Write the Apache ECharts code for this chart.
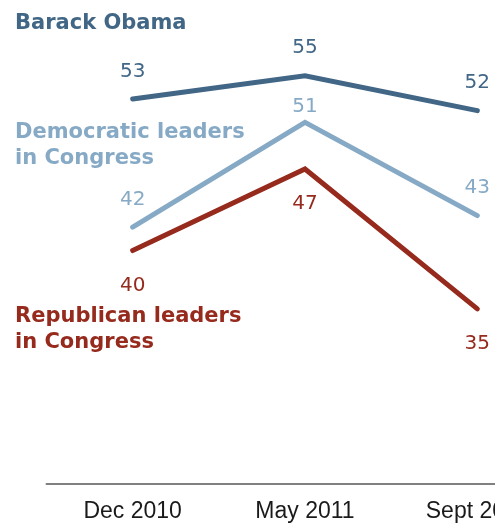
<!DOCTYPE html>
<html>
<head>
<meta charset="utf-8">
<script src="https://cdn.jsdelivr.net/npm/echarts@6/dist/echarts.min.js"></script>
<style>
  html, body { margin: 0; padding: 0; background: #fff; overflow: hidden; }
  /* the chart is wider than the window, so the last label is cut at the edge */
  #main { width: 566px; height: 525px; }
</style>
</head>
<body>
<div id="main"></div>
<script>
var categories = ['Dec 2010', 'May 2011', 'Sept 2011'];
var obama = [53, 55, 52];
var democrats = [42, 51, 43];
var republicans = [40, 47, 35];

var colors = ['#416686', '#86a9c5', '#952a1d'];

var myChart = echarts.init(document.getElementById('main'));

function lineSeries(name, data, color, pos, dist) {
  return {
    name: name,
    type: 'line',
    data: data,
    symbol: 'circle',
    symbolSize: 2,
    showSymbol: true,
    itemStyle: { color: color },
    lineStyle: { color: color, width: 5, cap: 'round', join: 'miter' },
    label: {
      show: true,
      position: pos,
      distance: dist,
      color: color,
      fontFamily: 'DejaVu Sans',
      fontSize: 20
    },
    emphasis: { disabled: true },
    animation: false
  };
}

var demSeries = lineSeries('Democratic leaders in Congress', democrats, colors[1], 'top', 16.5);
// the May label sits closer to the line
demSeries.data = democrats.map(function (v, i) {
  return i === 1 ? { value: v, label: { distance: 4.5 } } : v;
});

var option = {
  animation: false,
  grid: { left: 46.5, top: 17.4, width: 517, height: 466.3 },
  xAxis: {
    type: 'category',
    boundaryGap: true,
    data: categories,
    axisLine: { show: true, lineStyle: { color: '#808080', width: 2 } },
    axisTick: { show: false },
    axisLabel: {
      color: '#1a1a1a',
      fontFamily: 'Liberation Sans',
      fontSize: 23,
      margin: 16
    }
  },
  yAxis: {
    type: 'value',
    min: 20,
    max: 60,
    show: false,
    splitLine: { show: false }
  },
  series: [
    lineSeries('Barack Obama', obama, colors[0], 'top', 16.5),
    demSeries,
    lineSeries('Republican leaders in Congress', republicans, colors[2], 'bottom', 24)
  ],
  graphic: [
    {
      type: 'text', left: 15, top: 13,
      style: { text: 'Barack Obama', fill: colors[0], font: 'bold 21px "DejaVu Sans"' }
    },
    {
      type: 'text', left: 15, top: 120,
      style: { text: 'Democratic leaders\nin Congress', fill: colors[1], font: 'bold 21px "DejaVu Sans"', lineHeight: 26 }
    },
    {
      type: 'text', left: 15, top: 304,
      style: { text: 'Republican leaders\nin Congress', fill: colors[2], font: 'bold 21px "DejaVu Sans"', lineHeight: 26 }
    }
  ]
};

myChart.setOption(option);
</script>
</body>
</html>
